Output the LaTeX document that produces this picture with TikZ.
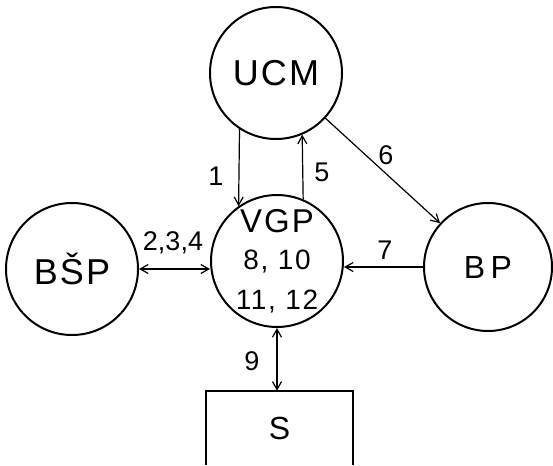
\documentclass[tikz,border=0pt]{standalone}
\usepackage{fontspec}
\setmainfont{Liberation Sans}
\newfontfamily\hw[LetterSpace=6]{Liberation Sans}
\usetikzlibrary{arrows.meta}
\begin{document}
\begin{tikzpicture}[x=1pt,y=-1pt,
  circ/.style={draw,circle,line width=2pt,inner sep=0pt,font=\hw\fontsize{36}{40}\selectfont},
  arr/.style={line width=1.2pt,-{Straight Barb[length=8pt,width=9pt]}},
  darr/.style={line width=1.2pt,{Straight Barb[length=8pt,width=9pt]}-{Straight Barb[length=8pt,width=9pt]}},
  lab/.style={inner sep=0pt,font=\fontsize{27}{30}\selectfont}]
\useasboundingbox[fill=white] (0,0) rectangle (553,465);
\node[circ,minimum size=132pt] (ucm) at (276,73) {UCM};
\node[circ,minimum size=128pt,align=center] (vgp) at (277,261)
  {{\fontsize{33}{36}\selectfont VGP}\\[-3pt]{\fontsize{28}{32}\selectfont 8, 10}\\{\fontsize{28}{32}\selectfont 11, 12}};
\node[circ,minimum size=132pt] (bsp) at (72,269) {BŠP};
\node[circ,minimum size=128pt,font=\hw\fontsize{32}{36}\selectfont] (bp) at (488,267) {B\,P\hspace{10pt}};
\node[minimum width=147pt,minimum height=74pt,inner sep=0pt,font=\fontsize{32}{36}\selectfont] (s) at (279.5,428) {S};
\draw[line width=2pt] (s.south west) -- (s.north west) -- (s.north east) -- (s.south east);
% connectors
\draw[arr] (ucm.237) -- (vgp.125);
\draw[arr] (vgp.67) -- (ucm.293);
\draw[arr] (ucm) -- (bp);
\draw[arr] (bp.west) -- (bp.west -| vgp.east);
\draw[darr] (bsp.east) -- (bsp.east -| vgp.west);
\draw[darr] (vgp.south) -- (vgp.south |- s.north);
% labels
\node[lab] (l1) at (216,176) {1};
\node[lab] (l5) at (322,172) {5};
\node[lab] (l6) at (386,155) {6};
\node[lab] (l7) at (385,250) {7};
\node[lab] (l234) at (173,243) {2,3,4};
\node[lab] (l9) at (252,361) {9};
\end{tikzpicture}
\end{document}
